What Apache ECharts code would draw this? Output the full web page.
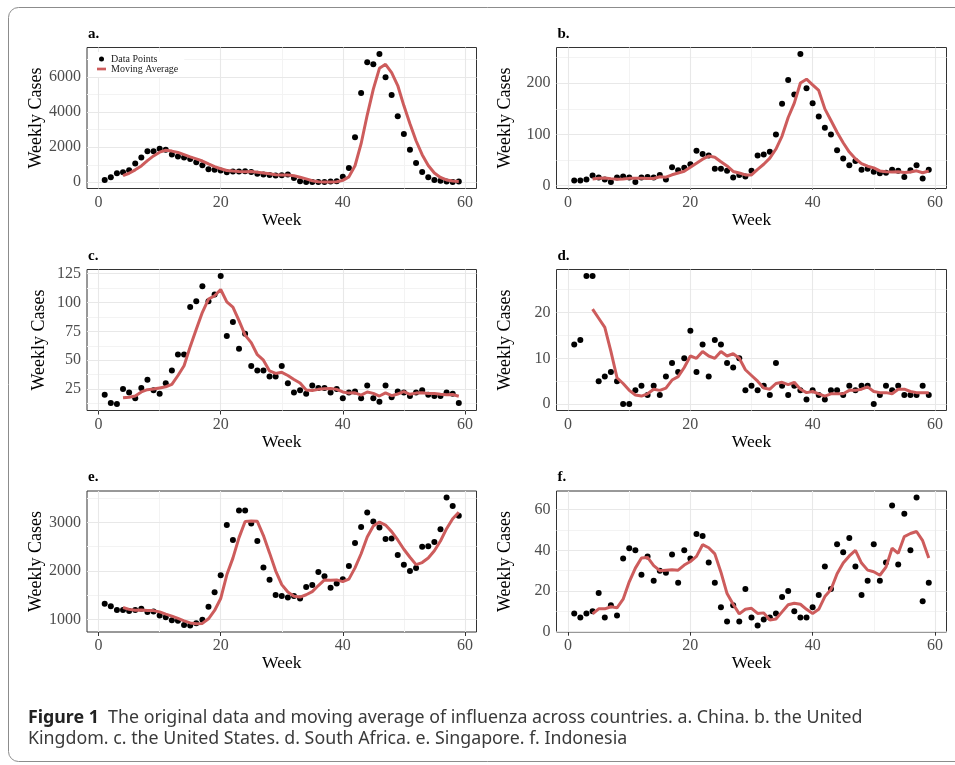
<!DOCTYPE html>
<html><head><meta charset="utf-8">
<script src="https://cdn.jsdelivr.net/npm/echarts@6/dist/echarts.min.js"></script>
<style>html,body{margin:0;padding:0;background:#fff}#c{width:955px;height:765px}</style>
</head><body><div id="c"></div>
<script>
// ---- data ----
const weeks = [1,2,3,4,5,6,7,8,9,10,11,12,13,14,15,16,17,18,19,20,21,22,23,24,25,26,27,28,29,30,31,32,33,34,35,36,37,38,39,40,41,42,43,44,45,46,47,48,49,50,51,52,53,54,55,56,57,58,59];
const maWeeks = [4,5,6,7,8,9,10,11,12,13,14,15,16,17,18,19,20,21,22,23,24,25,26,27,28,29,30,31,32,33,34,35,36,37,38,39,40,41,42,43,44,45,46,47,48,49,50,51,52,53,54,55,56,57,58,59];

const chinaCases = [130,290,510,570,690,1070,1410,1770,1770,1920,1850,1580,1470,1410,1330,1140,970,740,710,670,570,610,610,630,590,480,440,420,380,400,440,250,60,20,10,10,20,40,60,320,820,2570,5100,6860,6740,7330,6000,4990,3770,2760,1850,1100,590,290,130,80,40,20,40];
const chinaMA = [375,515,710,935,1235,1505,1718,1828,1780,1705,1578,1448,1338,1213,1045,890,773,673,640,615,605,610,578,535,483,430,410,410,368,288,193,85,25,15,20,33,110,310,943,2203,3838,5318,6508,6733,6265,5523,4380,3343,2370,1575,958,528,273,135,68,45];

const ukCases = [10,10,12,20,16,12,7,16,18,16,7,16,17,16,21,12,36,30,35,42,68,62,59,33,33,29,16,21,18,29,59,61,66,100,160,206,178,257,190,161,135,113,100,69,53,40,48,31,33,27,24,25,31,29,17,30,40,14,31];
const ukMA = [13,14.5,15,13.75,12.75,13.25,14.25,14.25,14.25,14,14,17.5,16.5,21.25,24.75,28.25,35.75,43.75,51.75,57.75,55.5,46.75,38.5,27.75,24.75,21,21,31.75,41.75,53.75,71.5,96.75,133,161,200.25,207.75,196.5,185.75,149.75,127.25,104.25,83.75,65.5,52.5,43,38,34.75,28.75,27.25,26.75,27.25,25.5,26.75,29,25.25,28.75];

const usCases = [20,13,12,25,22,17,26,33,24,21,30,41,55,55,96,101,114,101,107,123,71,83,60,73,45,41,41,36,36,45,30,22,24,21,28,26,26,22,25,17,22,23,17,28,17,14,28,18,23,22,19,22,24,20,19,19,22,21,13];
const usMA = [17.5,18,19,22.5,24.5,25,26,27,29,36.75,45.25,61.75,76.75,91.5,103,105.75,111.25,100.5,96,84.25,71.75,65.25,54.75,50,40.75,38.5,39.5,36.75,33.25,30.25,24.25,23.75,24.75,25.25,25.5,24.75,22.5,21.5,21.75,19.75,22.5,21.25,19,21.75,19.25,20.75,22.75,20.5,21.5,21.75,21.25,21.25,20.5,20,20.25,18.75];

const saCases = [13,14,28,28,5,6,7,5,0,0,3,4,2,4,2,6,9,7,10,16,7,13,6,14,13,9,8,10,3,4,3,4,2,9,4,2,4,3,1,3,2,1,3,3,2,4,3,4,4,0,2,4,3,4,2,2,2,4,2];
const saMA = [20.75,18.75,16.75,11.5,5.75,4.5,3,2,1.75,2.25,3.25,3,3.5,5.25,6,8,10.5,10,11.5,10.5,10,11.5,10.5,11,10,7.5,6.25,5,3.5,3.25,4.5,4.75,4.25,4.75,3.25,2.5,2.75,2.25,1.75,2.25,2.25,2.25,3,3,3.25,3.75,2.75,2.5,2.5,2.25,3.25,3.25,2.75,2.5,2.5,2.5];

const sgCases = [1320,1270,1190,1190,1170,1190,1220,1150,1160,1080,1040,980,970,880,870,920,990,1260,1560,1910,2950,2640,3250,3250,2980,2620,2070,1820,1500,1480,1450,1480,1430,1670,1710,1980,1890,1650,1740,1830,2100,2580,2910,3210,3020,2900,2660,2670,2330,2130,2000,2060,2500,2510,2600,2860,3520,3340,3140];
const sgMA = [1243,1205,1185,1193,1183,1180,1153,1108,1065,1018,968,925,910,915,1010,1183,1430,1920,2265,2688,3023,3030,3025,2730,2373,2003,1718,1563,1478,1460,1508,1573,1698,1813,1808,1815,1778,1830,2063,2355,2700,2930,3010,2948,2813,2640,2448,2283,2130,2173,2268,2418,2618,2873,3080,3215];

const idCases = [9,7,9,10,19,7,13,8,36,41,40,28,37,25,30,29,38,24,40,36,48,47,34,24,12,5,13,5,21,7,3,6,7,9,17,20,10,7,7,12,18,32,21,43,39,46,32,18,25,43,25,34,62,33,58,40,66,15,24];
const idMA = [8.75,11.25,11.25,12.25,11.75,16,24.5,31.25,36.25,36.5,32.5,30,30.25,30.5,30.25,32.75,34.5,37,42.75,41.25,38.25,29.25,18.75,13.5,8.75,11,11.5,9,9.25,5.75,6.25,9.75,13.25,14,13.5,11,9,11,17.25,20.75,28.5,33.75,37.25,40,33.75,30.25,29.5,27.75,31.75,41,38.5,46.75,48.25,49.25,44.75,36.25];

// tick labels and minor breaks
const xTicks = [0,20,40,60];
const xMinor = [10,30,50];
const chinaTicks = [0,2000,4000,6000];   const chinaMinor = [1000,3000,5000,7000];
const ukTicks = [0,100,200];             const ukMinor = [50,150,250];
const usTicks = [25,50,75,100,125];      const usMinor = [12.5,37.5,62.5,87.5,112.5];
const saTicks = [0,10,20];               const saMinor = [5,15,25];
const sgTicks = [1000,2000,3000];        const sgMinor = [1500,2500,3500];
const idTicks = [0,20,40,60];            const idMinor = [10,30,50];

const panelLabels = ['a.','b.','c.','d.','e.','f.'];
const captionBold = 'Figure 1';
const captionLine1 = 'The original data and moving average of influenza across countries. a. China. b. the United';
const captionLine2 = 'Kingdom. c. the United States. d. South Africa. e. Singapore. f. Indonesia';

// ---- layout ----
const panels = [
  {cases: chinaCases, ma: chinaMA, ticks: chinaTicks, minor: chinaMinor, step: 2000},
  {cases: ukCases, ma: ukMA, ticks: ukTicks, minor: ukMinor, step: 100},
  {cases: usCases, ma: usMA, ticks: usTicks, minor: usMinor, step: 25},
  {cases: saCases, ma: saMA, ticks: saTicks, minor: saMinor, step: 10},
  {cases: sgCases, ma: sgMA, ticks: sgTicks, minor: sgMinor, step: 1000},
  {cases: idCases, ma: idMA, ticks: idTicks, minor: idMinor, step: 20}
];
const lefts = [87, 556.5], widths = [389.5, 390], tops = [47.5, 269.5, 491], H = 141;
const serif = "'Liberation Serif','Times New Roman',serif";
const sans = "'Noto Sans','Open Sans',sans-serif";
const red = '#cd5c5c';

const option = {animation:false, backgroundColor:'#fff', grid:[], xAxis:[], yAxis:[], series:[], title:[],
  legend: {left:88, top:52, z:6, orient:'vertical', itemWidth:9, itemHeight:5, itemGap:0, padding:[2,6,3,9],
    backgroundColor:'#fff', symbolKeepAspect:true, selectedMode:false,
    textStyle:{fontFamily:serif, fontSize:10, lineHeight:10, color:'#1a1a1a'},
    data:[{name:'Data Points', icon:'circle', itemStyle:{color:'#000', borderWidth:0}},
          {name:'Moving Average', icon:'path://M0,0L9,0L9,2.7L0,2.7Z', itemStyle:{color:red, borderWidth:0}}]},
  graphic:[{type:'rect', silent:true, z:-10, shape:{x:8.5, y:7.5, width:1000, height:754, r:10},
    style:{fill:'none', stroke:'#8c8c8c', lineWidth:1}}]
};

panels.forEach((p, i) => {
  const col = i % 2, row = Math.floor(i / 2);
  const lo = Math.min(...p.cases), hi = Math.max(...p.cases), pad = (hi - lo) * 0.05;
  const tick = (arr) => (v) => arr.indexOf(v) >= 0 ? String(v) : '';
  option.grid.push({left: lefts[col], top: tops[row], width: widths[col], height: H, show:true,
    borderColor:'#333', borderWidth:1, backgroundColor:'transparent'});
  option.xAxis.push({type:'value', gridIndex:i, min:-1.9, max:61.9, minInterval:20, maxInterval:20,
    splitLine:{show:false}, axisLine:{show:false},
    axisTick:{show:true, length:4, customValues:xTicks, lineStyle:{color:'#333', width:1}},
    axisLabel:{customValues:xTicks, margin:6, color:'#4d4d4d', fontSize:16, fontFamily:serif,
      formatter: tick(xTicks)},
    name:'Week', nameLocation:'middle', nameGap:21,
    nameTextStyle:{fontFamily:serif, fontSize:17.5, color:'#000'}});
  option.yAxis.push({type:'value', gridIndex:i, min: lo - pad, max: hi + pad, minInterval:p.step, maxInterval:p.step,
    splitLine:{show:false}, axisLine:{show:false},
    axisTick:{show:true, length:4, customValues:p.ticks, lineStyle:{color:'#333', width:1}},
    axisLabel:{customValues:p.ticks, margin:6, color:'#4d4d4d', fontSize:16, fontFamily:serif,
      formatter: tick(p.ticks)},
    name:'Weekly Cases', nameLocation:'middle', nameRotate:90, nameGap: col === 0 ? 39 : 42,
    nameTextStyle:{fontFamily:serif, fontSize:18, color:'#000'}});
  // gridlines through the axes' scales
  option.series.push({type:'line', xAxisIndex:i, yAxisIndex:i, data:[], silent:true, z:0,
    markLine:{z:1, silent:true, symbol:['none','none'], label:{show:false}, animation:false,
      lineStyle:{type:'solid', color:'#f3f3f3', width:1},
      data: xMinor.map(v => ({xAxis:v})).concat(p.minor.map(v => ({yAxis:v})))}});
  option.series.push({type:'line', xAxisIndex:i, yAxisIndex:i, data:[], silent:true, z:0,
    markLine:{z:1, silent:true, symbol:['none','none'], label:{show:false}, animation:false,
      lineStyle:{type:'solid', color:'#e8e8e8', width:1.1},
      data: xTicks.map(v => ({xAxis:v})).concat(p.ticks.map(v => ({yAxis:v})))}});
  option.series.push({type:'scatter', name:'Data Points', xAxisIndex:i, yAxisIndex:i, z:3,
    symbol:'circle', symbolSize:6, itemStyle:{color:'#000', opacity:1, borderWidth:0},
    emphasis:{disabled:true},
    data: weeks.map((w, k) => [w, p.cases[k]])});
  option.series.push({type:'line', name:'Moving Average', xAxisIndex:i, yAxisIndex:i, z:4,
    showSymbol:false, symbol:'none', itemStyle:{color:red}, lineStyle:{color:red, width:3},
    emphasis:{disabled:true},
    data: maWeeks.map((w, k) => [w, p.ma[k]])});
  option.title.push({text: panelLabels[i], left: lefts[col] + 1, top: tops[row] - 21, padding:0,
    textStyle:{fontFamily:serif, fontWeight:'bold', fontSize:15, color:'#000'}});
});

option.title.push({left:28, top:707, padding:0,
  text: '{b|' + captionBold + '}  ' + captionLine1 + '\n' + captionLine2,
  textStyle:{fontFamily:sans, fontSize:17.8, fontWeight:'normal', color:'#3a3a3a', lineHeight:21,
    rich:{b:{fontFamily:sans, fontSize:17.8, fontWeight:'bold', color:'#222', lineHeight:21}}}});

const chart = echarts.init(document.getElementById('c'), null, {renderer:'canvas'});
chart.setOption(option);
</script></body></html>
